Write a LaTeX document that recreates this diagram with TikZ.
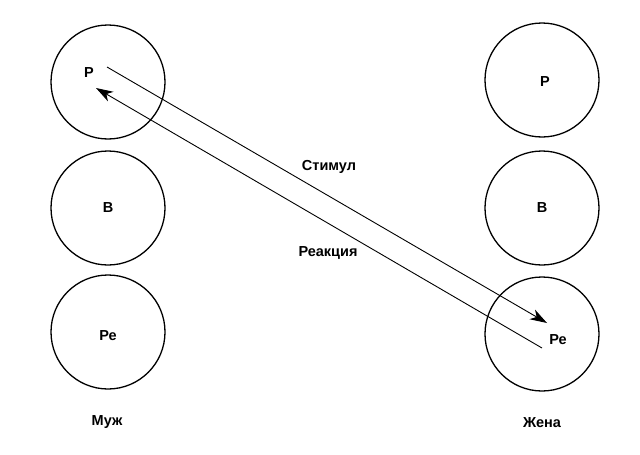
\documentclass[tikz,border=0pt]{standalone}
\usepackage{fontspec}
\setmainfont{Liberation Sans}
\usetikzlibrary{arrows.meta}
\begin{document}
\begin{tikzpicture}[x=1pt,y=-1pt,
  ego/.style={circle,draw,line width=1.3pt,minimum size=114pt,inner sep=0pt},
  lbl/.style={font=\fontsize{14.5}{16}\selectfont\bfseries, inner sep=0pt},
  conn/.style={line width=0.9pt,-{Stealth[length=17pt,width=11pt,inset=5pt]}}]
\useasboundingbox (0,0) rectangle (640,455);
\node[ego] (lP) at (108,82) {};
\node[ego] (lB) at (108,208) {};
\node[ego] (lC) at (108,332) {};
\node[ego] (rP) at (542,80) {};
\node[ego] (rB) at (542,208) {};
\node[ego] (rC) at (542,334) {};
\node[lbl] (tlP) at (89,73) {Р};
\node[lbl] (tlB) at (108,208) {В};
\node[lbl] (tlC) at (108,335.5) {Ре};
\node[lbl] (trP) at (545,82) {Р};
\node[lbl] (trB) at (542,208) {В};
\node[lbl] (trC) at (558,340) {Ре};
\coordinate (s1) at (107,67);
\coordinate (s2) at (547,323);
\coordinate (r1) at (542,348);
\coordinate (r2) at (96,88);
\draw[conn] (s1) -- (s2);
\draw[conn] (r1) -- (r2);
\node[lbl] (stim) at (329,167) {Стимул};
\node[lbl] (reac) at (328,253) {Реакция};
\node[lbl] (muzh) at (107,422) {Муж};
\node[lbl] (zhena) at (542,423) {Жена};
\end{tikzpicture}
\end{document}
